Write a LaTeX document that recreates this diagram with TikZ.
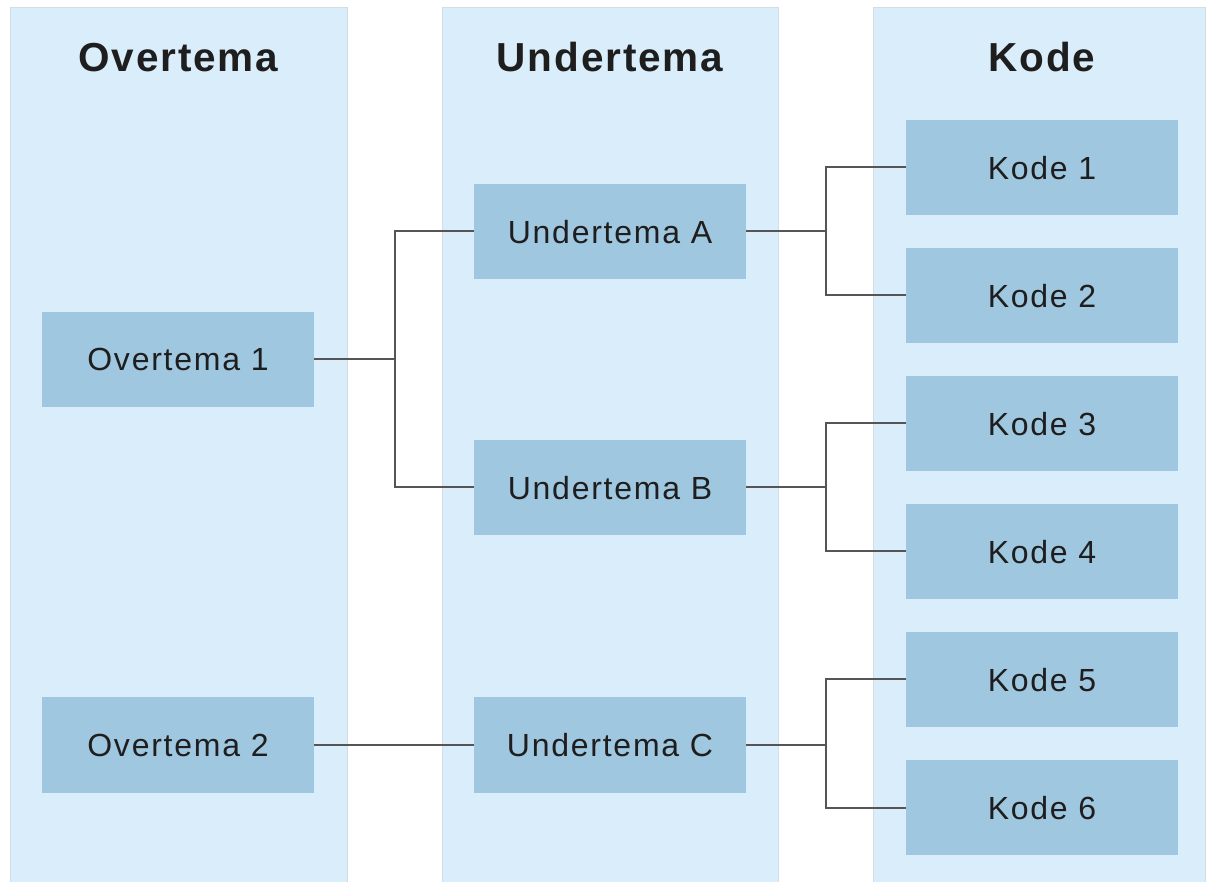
\documentclass[tikz,border=0pt]{standalone}
\usepackage{fontspec}
\setmainfont{Liberation Sans}
\newfontfamily\labfont{Liberation Sans}[LetterSpace=5.5]
\newfontfamily\headfont{Liberation Sans Bold}[LetterSpace=4.5]
\definecolor{colbg}{HTML}{DAEDFB}
\definecolor{coledge}{HTML}{D4DDE4}
\definecolor{boxbg}{HTML}{A0C7E0}
\definecolor{linec}{HTML}{555555}
\definecolor{txt}{HTML}{1E1E1E}
\begin{document}
\begin{tikzpicture}[x=1pt,y=1pt,
  column/.style={fill=colbg,draw=coledge,line width=0.8pt},
  item/.style={fill=boxbg,draw=none,minimum width=272pt,minimum height=95pt,inner sep=0pt,text=txt,font=\labfont\fontsize{32}{34}\selectfont,yshift=-1.5pt,text depth=0pt},
  head/.style={text=txt,font=\headfont\fontsize{40.5}{44}\selectfont,inner sep=0pt,anchor=base},
  link/.style={draw=linec,line width=2pt}]
\useasboundingbox (0,0) rectangle (1207,881);
\fill[white] (0,0) rectangle (1207,881);
% columns
\path[column] (10,-2) rectangle (347,874);
\path[column] (442,-2) rectangle (778,874);
\path[column] (873,-2) rectangle (1205,874);
% headers
\node[head] (h1) at (178.5,809) {Overtema};
\node[head] (h2) at (610,809) {Undertema};
\node[head] (h3) at (1042,809) {Kode};
% boxes
\node[item] (o1) at (178,523) {Overtema 1};
\node[item] (o2) at (178,137.5) {Overtema 2};
\node[item] (ua) at (610,651) {Undertema A};
\node[item] (ub) at (610,395) {Undertema B};
\node[item] (uc) at (610,137.5) {Undertema C};
\node[item] (k1) at (1042,715) {Kode 1};
\node[item] (k2) at (1042,587) {Kode 2};
\node[item] (k3) at (1042,459) {Kode 3};
\node[item] (k4) at (1042,331) {Kode 4};
\node[item] (k5) at (1042,203) {Kode 5};
\node[item] (k6) at (1042,75) {Kode 6};
% connectors
\coordinate (j1) at (395,0);
\coordinate (j2) at (826,0);
\draw[link] (o1.east) -- (o1.east -| j1);
\draw[link] (ua.west) -| (j1 |- ub.west) -- (ub.west);
\draw[link] (o2.east) -- (uc.west);
\draw[link] (ua.east) -- (ua.east -| j2);
\draw[link] (k1.west) -| (j2 |- k2.west) -- (k2.west);
\draw[link] (ub.east) -- (ub.east -| j2);
\draw[link] (k3.west) -| (j2 |- k4.west) -- (k4.west);
\draw[link] (uc.east) -- (uc.east -| j2);
\draw[link] (k5.west) -| (j2 |- k6.west) -- (k6.west);
\end{tikzpicture}
\end{document}
